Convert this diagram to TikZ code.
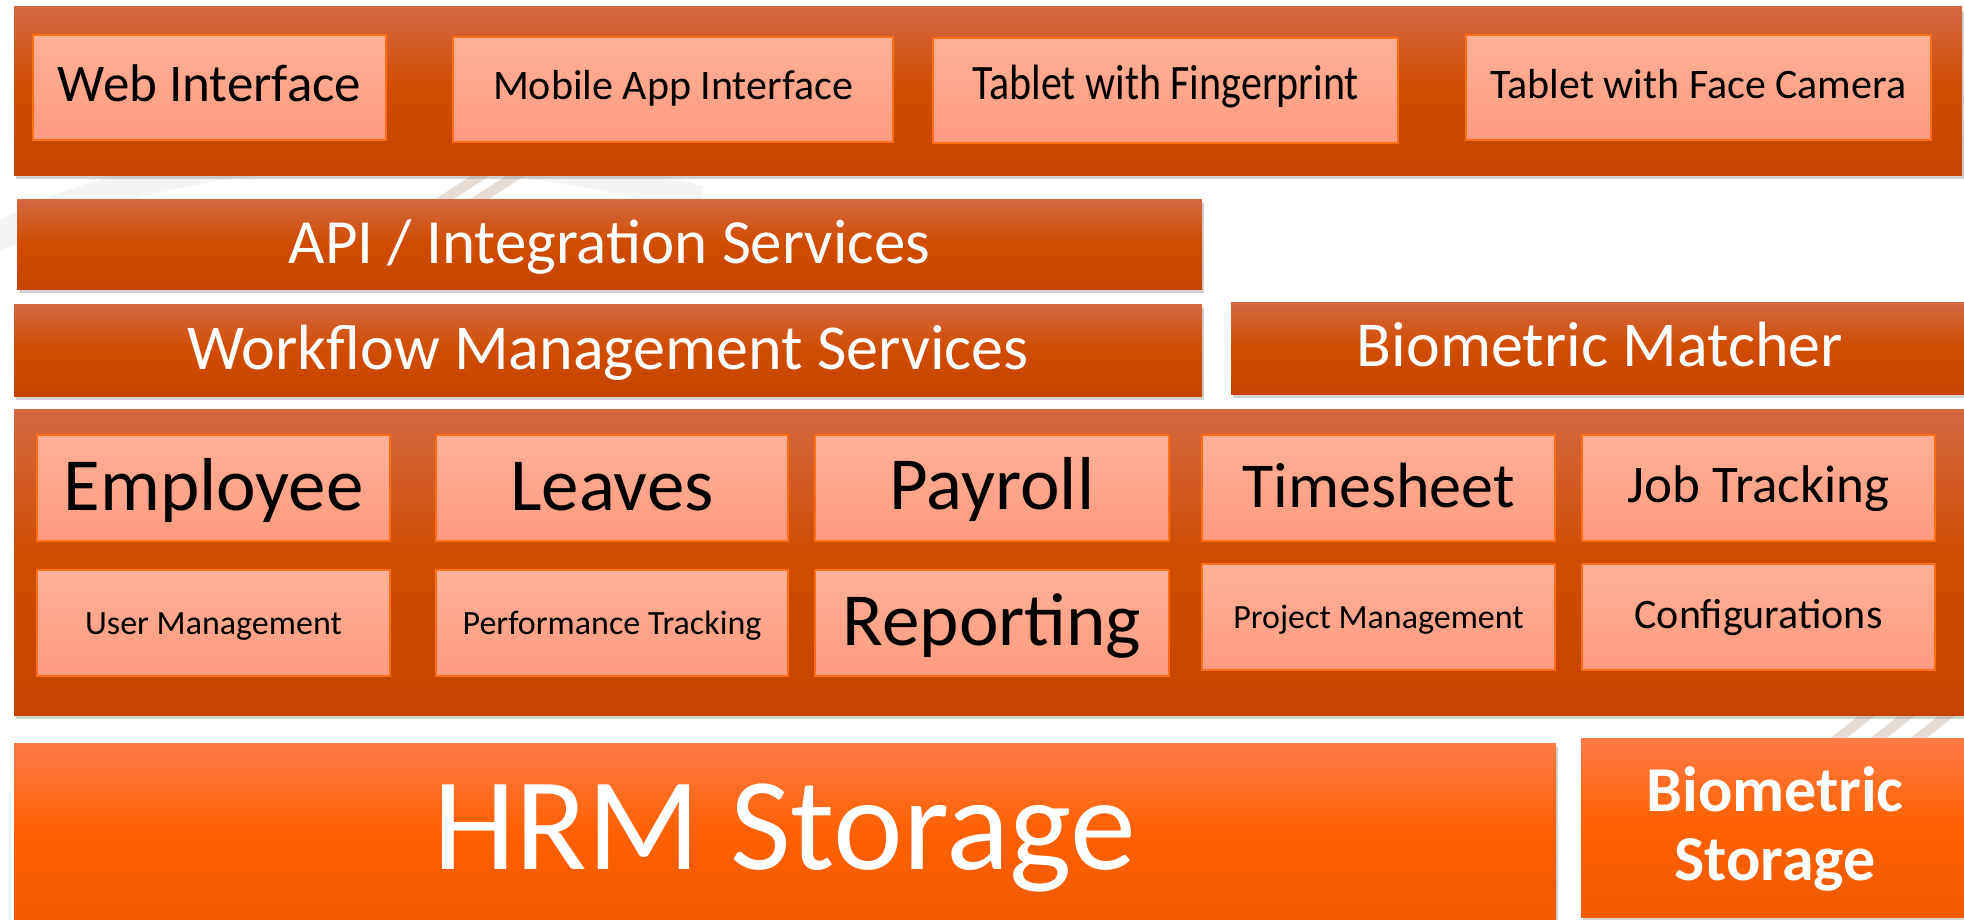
\documentclass[tikz,border=0pt]{standalone}
\usepackage{fontspec}
\setmainfont{Carlito}
\usetikzlibrary{fit,shadows}
\definecolor{barT}{HTML}{D46842}
\definecolor{barM}{HTML}{D04C00}
\definecolor{barB}{HTML}{C44400}
\definecolor{boxT}{HTML}{FFB098}
\definecolor{boxB}{HTML}{FF9A80}
\definecolor{boxE}{HTML}{FF6E14}
\definecolor{stT}{HTML}{FF7A48}
\definecolor{stM}{HTML}{FF6000}
\definecolor{stB}{HTML}{F05A00}
\definecolor{swoosh}{HTML}{E6DCD4}
\newcommand\fsz[1]{\fontsize{#1}{#1}\selectfont}
\begin{document}
\begin{tikzpicture}[x=0.5pt,y=-0.5pt,
  layer/.style={inner sep=0pt, outer sep=0pt, draw=none,
    top color=barT, bottom color=barB, middle color=barM,
    drop shadow={shadow xshift=1pt, shadow yshift=-2pt, opacity=0.35}},
  store/.style={inner sep=0pt, outer sep=0pt, draw=none,
    top color=stT, bottom color=stB, middle color=stM,
    drop shadow={shadow xshift=1pt, shadow yshift=-2pt, opacity=0.35}},
  modbox/.style={inner sep=0pt, outer sep=0pt, draw=boxE, line width=0.8pt,
    top color=boxT, bottom color=boxB},
  wtxt/.style={anchor=base, inner sep=0pt, text=white},
  btxt/.style={anchor=base, inner sep=0pt, text=black}]
\useasboundingbox (0,0) rectangle (1964,920);
\fill[white] (0,0) rectangle (1964,920);
% faint background swooshes
\draw[gray!9, line width=14pt] (-40,260) .. controls (120,150) and (420,120) .. (700,200);
\draw[swoosh, line width=5pt] (420,215) -- (520,150);
\draw[swoosh, line width=5pt] (455,215) -- (555,150);
\draw[swoosh, line width=5pt] (1830,745) -- (1880,705);
\draw[swoosh, line width=5pt] (1870,745) -- (1920,705);
\draw[swoosh, line width=5pt] (1910,745) -- (1960,705);

% presentation layer
\node[layer, fit={(14,7) (1962,175)}] (pres) {};
\node[modbox, fit={(33,35) (386,140)}] (web) {};
\node[modbox, fit={(453,37) (893,142)}] (mobile) {};
\node[modbox, fit={(933,38) (1398,143)}] (finger) {};
\node[modbox, fit={(1466,35) (1931,140)}] (face) {};
\node[btxt, font=\fsz{26.5}] (webt) at (209.5,102) {Web Interface};
\node[btxt, font=\fsz{21}] (mobilet) at (673,100) {Mobile App Interface};
\node[btxt, font=\fsz{21}] (fingert) at (1165.5,100) {\scalebox{1}[1.18]{Tablet with Fingerprint}};
\node[btxt, font=\fsz{21}] (facet) at (1698.5,99) {Tablet with Face Camera};

% services
\node[layer, fit={(17,199) (1202,289)}] (api) {};
\node[wtxt, font=\fsz{31.5}] (apit) at (609.5,263) {API / Integration Services};
\node[layer, fit={(14,304) (1202,396)}] (wf) {};
\node[wtxt, font=\fsz{32}] (wft) at (608,369) {Workflow Management Services};
\node[layer, fit={(1231,302) (1966,394)}] (bm) {};
\node[wtxt, font=\fsz{32}] (bmt) at (1600,366) {Biometric Matcher};

% modules
\node[layer, fit={(14,409) (1966,715)}] (mods) {};
\node[modbox, fit={(37,435) (390,541)}] (emp) {};
\node[modbox, fit={(436,435) (788,541)}] (leave) {};
\node[modbox, fit={(815,435) (1169,541)}] (pay) {};
\node[modbox, fit={(1202,435) (1555,541)}] (time) {};
\node[modbox, fit={(1582,435) (1935,541)}] (job) {};
\node[modbox, fit={(37,570) (390,676)}] (user) {};
\node[modbox, fit={(436,570) (788,676)}] (perf) {};
\node[modbox, fit={(815,570) (1169,676)}] (rep) {};
\node[modbox, fit={(1202,564) (1555,670)}] (proj) {};
\node[modbox, fit={(1582,564) (1935,670)}] (conf) {};
\node[btxt, font=\fsz{37.5}] (empt) at (213.5,510) {Employee};
\node[btxt, font=\fsz{37.5}] (leavet) at (612,510) {Leaves};
\node[btxt, font=\fsz{37.5}] (payt) at (992,509) {Payroll};
\node[btxt, font=\fsz{32}] (timet) at (1378.5,507) {Timesheet};
\node[btxt, font=\fsz{26.5}] (jobt) at (1758.5,502) {Job Tracking};
\node[btxt, font=\fsz{17}] (usert) at (213.5,634) {User Management};
\node[btxt, font=\fsz{17}] (perft) at (612,634) {Performance Tracking};
\node[btxt, font=\fsz{37.5}] (rept) at (992,645) {Reporting};
\node[btxt, font=\fsz{17}] (projt) at (1378.5,628) {Project Management};
\node[btxt, font=\fsz{21}] (conft) at (1758.5,628) {Configurations};

% storage
\node[store, fit={(14,743) (1556,925)}] (hrm) {};
\node[wtxt, font=\fsz{66}] (hrmt) at (785,869) {HRM Storage};
\node[store, fit={(1581,738) (1966,917)}] (bs) {};
\node[wtxt, font=\bfseries\fsz{32}] (bst1) at (1775,811) {Biometric};
\node[wtxt, font=\bfseries\fsz{32}] (bst2) at (1775,880) {Storage};
\end{tikzpicture}
\end{document}
